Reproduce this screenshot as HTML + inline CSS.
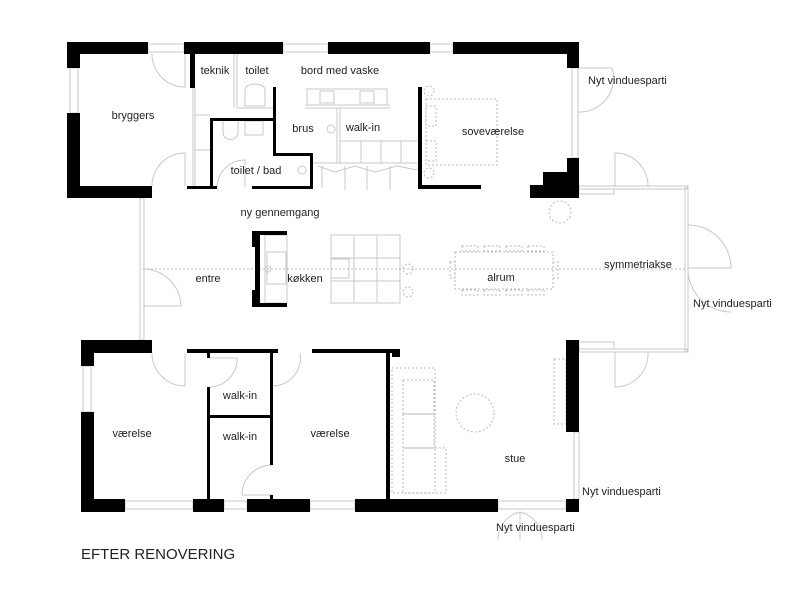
<!DOCTYPE html>
<html><head><style>
body{margin:0;background:#fff;}
svg{display:block;}
text{font-family:"Liberation Sans",sans-serif;font-size:11px;fill:#222;}
</style></head><body>
<svg width="800" height="591" viewBox="0 0 800 591" xmlns="http://www.w3.org/2000/svg">
<g fill="none" stroke="#c8c8c8" stroke-width="1">
<!-- windows top -->
<rect x="148" y="44" width="36" height="8"/><rect x="283" y="44" width="45" height="8"/><rect x="430" y="44" width="23" height="8"/>
<rect x="70" y="68" width="8" height="45"/><rect x="572" y="68" width="6" height="90"/>
<!-- windows bottom -->
<rect x="83" y="366" width="8" height="46"/>
<rect x="125" y="501" width="68" height="8"/><rect x="224" y="501" width="23" height="8"/><rect x="310" y="501" width="45" height="8"/><rect x="498" y="501" width="68" height="8"/>
<rect x="574" y="432" width="5" height="67"/>
<!-- veranda -->
<rect x="579" y="186" width="108" height="3"/><rect x="579" y="349" width="108" height="3"/><rect x="685" y="186" width="3" height="166"/>
<rect x="579" y="189" width="35" height="5"/><rect x="579" y="342" width="35" height="7"/>
<path d="M615 187 V153 A33 33 0 0 1 648 186"/>
<path d="M615 352 V387 A33 33 0 0 0 648 352"/>
<path d="M688 225 A43 43 0 0 1 731 268 H688 A43 43 0 0 0 731 312"/>
<path d="M578 68 H612 A34 34 0 0 1 578 112"/>
<!-- doors -->
<path d="M152 54 A33 33 0 0 0 185 87 V54"/>
<path d="M152 186 A33 33 0 0 1 185 153 V186"/>
<path d="M152 353 A33 33 0 0 0 185 386 V353"/>
<path d="M210 387 A28 28 0 0 0 237 358 H210"/>
<path d="M273 386 A28 28 0 0 0 300 353"/>
<path d="M272 465 A30 30 0 0 0 242 495 H272"/>
<path d="M143 269 A38 38 0 0 1 181 306 H143"/>
<path d="M520 512 V540 M520 512 A28 28 0 0 0 498 540 M520 512 A28 28 0 0 1 542 540"/>
<path d="M217 187 A28 28 0 0 1 245 160 V187"/>
<!-- entre wall thin -->
<rect x="140" y="198" width="4" height="142"/>
<!-- thin interior -->
<path d="M193 88 V186 M195 88 V186 M234 54 V108 M237 54 V108 M237 108 H273 M195 115 H210 M195 150 H210"/>
<path d="M245 90 C245 82 265 82 265 90 V106 H245 Z"/>
<path d="M223 118 V132 C223 142 238 142 238 132 V118"/><rect x="245" y="121" width="18" height="14"/>
<path d="M305 105 H390 M305 108 H390"/><rect x="307" y="89" width="80" height="16"/><rect x="320" y="91" width="14" height="12"/><rect x="360" y="91" width="14" height="12"/>
<path d="M337 108 V163 M340 108 V163 M340 141 H417 M340 163 H417 M313 163 H340"/>
<path d="M361 141 V163 M381 141 V163 M401 141 V163"/>
<path d="M318 166 L335 172 L355 166 L375 172 L397 166 L417 170 M322 166 V188 M345 166 V190 M367 166 V190 M390 166 V190"/>
<circle cx="331" cy="129" r="4"/><circle cx="302" cy="170" r="4"/>
<!-- kitchen -->
<rect x="265" y="235" width="22" height="68"/><rect x="267" y="252" width="19" height="32"/><circle cx="268" cy="269" r="3"/>
<rect x="331" y="235" width="69" height="68"/><path d="M354 235 V303 M377 235 V303 M331 258 H400 M331 281 H400"/><rect x="331" y="259" width="18" height="19"/>
</g>
<g fill="none" stroke="#bbb" stroke-width="1" stroke-dasharray="2,2">
<path d="M143 269 H687"/>
<circle cx="408" cy="269" r="5"/><circle cx="408" cy="292" r="5"/>
<circle cx="560" cy="212" r="11"/>
<rect x="455" y="252" width="98" height="37"/>
<rect x="462" y="246" width="16" height="5"/><rect x="484" y="246" width="16" height="5"/><rect x="506" y="246" width="16" height="5"/><rect x="528" y="246" width="16" height="5"/>
<rect x="462" y="290" width="16" height="5"/><rect x="484" y="290" width="16" height="5"/><rect x="506" y="290" width="16" height="5"/><rect x="528" y="290" width="16" height="5"/>
<rect x="450" y="262" width="5" height="16"/><rect x="553" y="262" width="5" height="16"/>
<rect x="426" y="99" width="71" height="66"/><rect x="426" y="106" width="10" height="20"/><rect x="426" y="141" width="10" height="20"/>
<circle cx="429" cy="91" r="5"/><circle cx="429" cy="173" r="5"/>
<rect x="392" y="368" width="43" height="125"/><rect x="403" y="380" width="31" height="34"/><rect x="403" y="414" width="31" height="34"/><rect x="403" y="448" width="43" height="45"/>
<circle cx="475" cy="413" r="19"/>
<rect x="554" y="359" width="12" height="65"/>
</g>
<g fill="#000">
<!-- top outer -->
<rect x="67" y="42" width="81" height="12"/><rect x="67" y="42" width="13" height="26"/><rect x="67" y="113" width="13" height="85"/><rect x="67" y="186" width="85" height="12"/>
<rect x="184" y="42" width="99" height="12"/><rect x="328" y="42" width="102" height="12"/><rect x="453" y="42" width="126" height="12"/>
<rect x="567" y="42" width="12" height="26"/>
<polygon points="567,158 579,158 579,198 530,198 530,185 543,185 543,172 567,172"/>
<rect x="190" y="54" width="5" height="34"/>
<path d="M210 188 V118 H273 V87 H276 V153 H313 V188 H310 V156 H273 V121 H213 V188 Z"/>
<rect x="187" y="186" width="30" height="3"/><rect x="252" y="186" width="61" height="3"/>
<rect x="418" y="87" width="4" height="101"/><rect x="418" y="185" width="63" height="4"/>
<!-- kitchen U -->
<rect x="252" y="231" width="35" height="4"/><rect x="252" y="303" width="35" height="4"/><rect x="255" y="231" width="5" height="76"/><rect x="252" y="231" width="8" height="16"/><rect x="252" y="290" width="8" height="17"/>
<!-- bottom -->
<rect x="81" y="340" width="71" height="13"/><rect x="81" y="340" width="13" height="26"/><rect x="81" y="412" width="13" height="100"/>
<rect x="81" y="499" width="44" height="13"/><rect x="193" y="499" width="31" height="13"/><rect x="247" y="499" width="63" height="13"/><rect x="355" y="499" width="143" height="13"/><rect x="566" y="499" width="13" height="13"/>
<rect x="187" y="349" width="91" height="4"/><rect x="312" y="349" width="88" height="4"/><rect x="392" y="349" width="8" height="8"/>
<rect x="207" y="353" width="3" height="5"/><rect x="207" y="387" width="3" height="112"/>
<rect x="270" y="353" width="3" height="112"/><rect x="270" y="495" width="3" height="4"/>
<rect x="210" y="415" width="60" height="3"/>
<rect x="386" y="353" width="4" height="146"/>
<rect x="566" y="340" width="13" height="92"/>
</g>
<g>
<text x="133" y="119" text-anchor="middle">bryggers</text>
<text x="215" y="74" text-anchor="middle">teknik</text>
<text x="257" y="74" text-anchor="middle">toilet</text>
<text x="340" y="74" text-anchor="middle">bord med vaske</text>
<text x="303" y="132" text-anchor="middle">brus</text>
<text x="363" y="131" text-anchor="middle">walk-in</text>
<text x="493" y="135" text-anchor="middle">soveværelse</text>
<text x="256" y="174" text-anchor="middle">toilet / bad</text>
<text x="280" y="216" text-anchor="middle">ny gennemgang</text>
<text x="208" y="282" text-anchor="middle">entre</text>
<text x="305" y="282" text-anchor="middle">køkken</text>
<text x="501" y="281" text-anchor="middle">alrum</text>
<text x="638" y="268" text-anchor="middle">symmetriakse</text>
<text x="588" y="84">Nyt vinduesparti</text>
<text x="693" y="307">Nyt vinduesparti</text>
<text x="132" y="437" text-anchor="middle">værelse</text>
<text x="240" y="399" text-anchor="middle">walk-in</text>
<text x="240" y="440" text-anchor="middle">walk-in</text>
<text x="330" y="437" text-anchor="middle">værelse</text>
<text x="515" y="462" text-anchor="middle">stue</text>
<text x="582" y="495">Nyt vinduesparti</text>
<text x="496" y="531">Nyt vinduesparti</text>
<text x="81" y="559" style="font-size:15px">EFTER RENOVERING</text>
</g>
</svg>
</body></html>
